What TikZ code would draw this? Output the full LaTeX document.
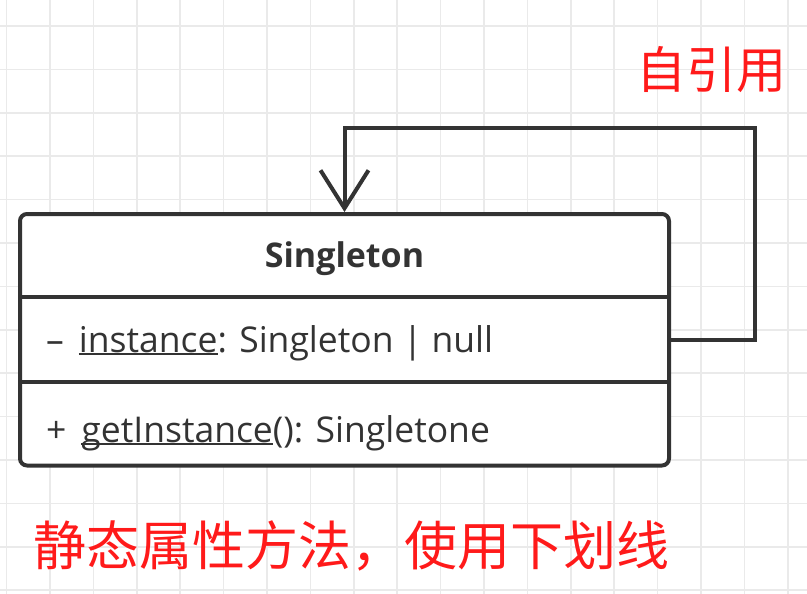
\documentclass[tikz,border=0pt]{standalone}
\usepackage{fontspec}
\setmainfont{Open Sans}
\newfontfamily\cjk{Noto Sans CJK SC}
\usepackage{tikz}
\usetikzlibrary{arrows.meta}
\definecolor{lineGray}{RGB}{51, 51, 51}
\definecolor{gridGray}{RGB}{234, 234, 234}
\definecolor{noteRed}{RGB}{255, 26, 26}
\newcommand{\staticul}[1]{\setbox0\hbox{#1}\rlap{\rule[-3pt]{\wd0}{2pt}}\box0}

\begin{document}
\begin{tikzpicture}[x=1pt,y=-1pt,
    umltext/.style={inner sep=0, text=lineGray, font=\fontsize{35.5}{40}\selectfont},
    note/.style={inner sep=0, text=noteRed, font=\cjk\fontsize{53}{60}\selectfont}]
    \useasboundingbox[fill=white] (0,0) rectangle (807,594);
    \foreach \k in {0,...,18} {
        \draw[gridGray, line width=1.5] (6.6+43.4*\k,0) -- (6.6+43.4*\k,594);
    }
    \foreach \k in {1,...,14} {
        \draw[gridGray, line width=1.5] (0,-17.4+43.4*\k) -- (807,-17.4+43.4*\k);
    }
    \node[draw=lineGray, line width=4, rounded corners=7, fill=white, minimum width=649, minimum height=251.5, inner sep=0] (cls) at (344.5,339.75) {};
    \coordinate (sepA) at (0,297);
    \coordinate (sepB) at (0,382);
    \draw[lineGray, line width=4] (cls.west |- sepA) -- (cls.east |- sepA);
    \draw[lineGray, line width=4] (cls.west |- sepB) -- (cls.east |- sepB);
    \node[umltext, anchor=base] (title) at (344.5,267) {\fontsize{34}{40}\selectfont\bfseries Singleton};
    \node[umltext, anchor=base west] (attr) at (46,352) {–\kern15pt\staticul{instance}: Singleton | null};
    \node[umltext, anchor=base west] (meth) at (46,442) {+\kern15pt\staticul{getInstance}(): Singletone};
    \coordinate (loopR) at (754.5,128.5);
    \draw[lineGray, line width=4, line join=miter, -{Straight Barb[length=38pt,width=48pt]}] (cls.east) -| (loopR) -| (cls.north);
    \node[note, anchor=west] (selfnote) at (636,70) {\fontsize{50}{60}\selectfont 自引用};
    \node[note, anchor=west] (staticnote) at (33,546) {静态属性方法，使用下划线};
\end{tikzpicture}
\end{document}
